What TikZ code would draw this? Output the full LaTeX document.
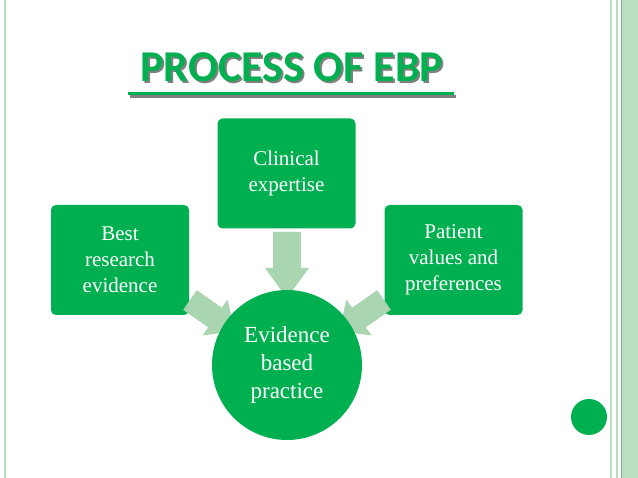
\documentclass[tikz,border=0pt]{standalone}
\usepackage{fontspec}
\setmainfont{Liberation Serif}
\newfontfamily\titlefont{Carlito}
\definecolor{ebpgreen}{HTML}{00B050}
\definecolor{lightg}{HTML}{A9D5B0}
\definecolor{bandg}{HTML}{B9DEC2}
\tikzset{
 boxnode/.style={fill=ebpgreen,rounded corners=5pt,minimum width=138pt,minimum height=110pt,text=white,align=center,font=\fontsize{21}{26}\selectfont},
 blockarrow/.style={fill=lightg,draw=none}
}
\begin{document}
\begin{tikzpicture}[x=1pt,y=-1pt]
\useasboundingbox (0,0) rectangle (638,478);
\fill[white] (0,0) rectangle (638,478);
\draw[bandg,line width=1.5pt] (5,0) -- (5,478);
\draw[bandg,line width=1.5pt] (611,0) -- (611,478);
\draw[bandg,line width=1.5pt] (617,0) -- (617,478);
\fill[bandg] (621,0) rectangle (638,478);
\draw[lightg!80!black,line width=0.6pt] (621,0) -- (621,478);
\node (shadow) at (294,69) {\titlefont\fontsize{44}{50}\selectfont\bfseries\color{gray}PROCESS OF EBP};
\node (title) at (292,67) {\titlefont\fontsize{44}{50}\selectfont\bfseries\color{ebpgreen}PROCESS OF EBP};
\fill[gray] (130,95) rectangle (456,98);
\fill[ebpgreen] (128,92) rectangle (454,95);
\node[boxnode] (clin) at (286.5,173.5) {Clinical\\expertise};
\node[boxnode] (best) at (120,260) {Best\\research\\evidence};
\node[boxnode] (pat) at (453.5,260) {Patient\\values and\\preferences};
\fill[blockarrow] (273,232) -- (301,232) -- (301,268) -- (309,268) -- (287,298) -- (265,268) -- (273,268) -- cycle;
\fill[blockarrow] (196.8,290.2) -- (221.8,307.7) -- (227.5,299.5) -- (235,331) -- (202.5,335.5) -- (208.2,327.3) -- (183.2,309.8) -- cycle;
\fill[blockarrow] (377.2,290.2) -- (352.2,307.7) -- (346.5,299.5) -- (339,331) -- (371.5,335.5) -- (365.8,327.3) -- (390.8,309.8) -- cycle;
\node[circle,fill=ebpgreen,minimum size=150pt,text=white,align=center,font=\fontsize{23}{28}\selectfont] (ebp) at (287,365) {Evidence\\based\\practice};
\fill[ebpgreen] (589,417) circle (18);
\end{tikzpicture}
\end{document}
